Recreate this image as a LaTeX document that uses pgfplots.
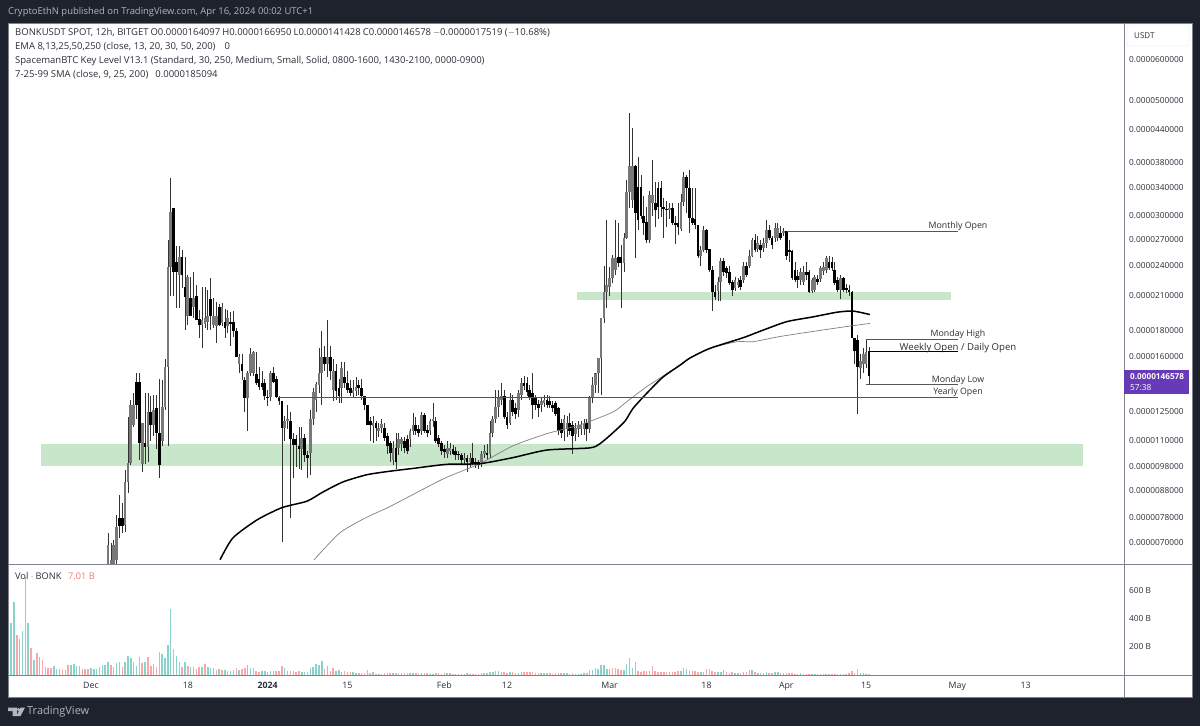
\documentclass[border=0pt]{standalone}
\usepackage{pgfplots}
\usepackage{pgfplotstable}
\usepackage{fontspec}
\pgfplotsset{compat=1.18}
\setmainfont{Open Sans}
\definecolor{bgdark}{HTML}{1E222D}
\definecolor{hdr}{HTML}{B2B5BE}
\definecolor{ink}{HTML}{2A2E39}
\definecolor{frame}{HTML}{7E828C}
\definecolor{zone}{HTML}{C8E6C9}
\definecolor{upbody}{HTML}{787878}
\definecolor{volup}{HTML}{8AD3CB}
\definecolor{voldn}{HTML}{F8A8A8}
\definecolor{lastpx}{HTML}{673AB7}
\definecolor{lvl}{HTML}{555555}
\newcommand{\fa}{\fontsize{8.8}{10}\selectfont}
\newcommand{\fl}{\fontsize{9.5}{11}\selectfont}
\newcommand{\ft}{\fontsize{8.3}{10}\selectfont}
\pgfplotstableread{
k o h l c
35 .605 .729 .57 .691
36 .605 .697 .57 .647
37 .619 .707 .59 .691
38 .647 .79 .633 .749
39 .78 .864 .713 .752
40 .78 .834 .729 .752
41 .756 .965 .732 .915
42 .915 1.225 .872 .996
43 .996 1.32 .985 1.29
44 1.18 1.36 1.17 1.29
45 1.43 1.485 1.21 1.29
46 1.43 1.485 1.01 1.09
47 .99 1.19 .957 1.19
48 1.09 1.36 .99 1.07
49 1.07 1.36 1.0 1.25
50 1.25 1.345 1.10 1.18
51 1.18 1.35 1.125 1.26
52 1.27 1.35 1.06 1.14
53 1.14 1.445 .93 .985
54 1.10 1.44 1.075 1.28
55 1.28 1.58 1.26 1.53
56 1.53 2.69 1.075 2.38
57 2.38 3.54 2.10 3.05
58 3.10 3.10 2.10 2.33
59 2.44 2.62 1.99 2.33
60 2.30 2.62 1.99 2.49
61 2.49 2.57 2.17 2.30
62 2.18 2.49 1.80 2.09
63 1.92 2.30 1.84 2.28
64 2.08 2.28 1.93 1.92
65 2.0 2.33 1.90 2.08
66 2.10 2.20 1.88 1.88
67 1.89 1.97 1.74 1.84
68 1.84 2.18 1.66 1.88
69 1.85 2.18 1.82 1.90
70 1.87 2.15 1.80 1.92
71 2.07 2.27 1.80 1.92
72 1.84 2.08 1.82 1.92
73 1.83 2.04 1.70 1.92
74 2.0 2.02 1.83 1.84
75 1.86 2.03 1.83 2.0
76 1.87 1.98 1.74 1.82
77 1.83 1.97 1.78 1.90
78 1.87 1.95 1.68 1.85
79 1.87 1.96 1.75 1.79
80 1.79 1.82 1.60 1.60
81 1.55 1.62 1.49 1.60
82 1.55 1.62 1.44 1.50
83 1.44 1.46 1.25 1.33
84 1.33 1.50 1.15 1.485
85 1.485 1.66 1.47 1.62
86 1.49 1.64 1.47 1.63
87 1.48 1.63 1.41 1.42
88 1.45 1.53 1.38 1.40
89 1.42 1.50 1.38 1.40
90 1.42 1.45 1.32 1.34
91 1.335 1.38 1.285 1.33
92 1.335 1.50 1.31 1.49
93 1.49 1.53 1.42 1.43
94 1.45 1.47 1.33 1.335
95 1.335 1.34 1.29 1.31
96 1.31 1.31 .70 1.165
97 1.165 1.23 1.10 1.20
98 1.20 1.29 1.16 1.21
99 1.20 1.25 .78 1.11
100 1.11 1.14 .93 1.08
101 1.11 1.13 .98 1.08
102 1.075 1.17 .97 1.06
103 1.06 1.17 .965 1.115
104 1.115 1.135 1.0 1.03
105 1.03 1.05 .93 1.02
106 1.04 1.26 .945 1.21
107 1.21 1.39 1.18 1.365
108 1.32 1.43 1.25 1.415
109 1.41 1.66 1.36 1.485
110 1.485 1.79 1.29 1.60
111 1.60 1.68 1.50 1.55
112 1.55 1.88 1.46 1.60
113 1.60 1.68 1.44 1.50
114 1.38 1.58 1.31 1.50
115 1.50 1.55 1.32 1.37
116 1.39 1.45 1.30 1.34
117 1.39 1.56 1.30 1.52
118 1.46 1.56 1.39 1.42
119 1.42 1.50 1.36 1.38
120 1.39 1.44 1.34 1.36
121 1.36 1.44 1.33 1.38
122 1.37 1.46 1.34 1.40
123 1.41 1.44 1.35 1.39
124 1.39 1.445 1.32 1.34
125 1.34 1.34 1.26 1.29
126 1.29 1.29 1.18 1.18
127 1.20 1.22 1.10 1.18
128 1.175 1.23 1.09 1.19
129 1.19 1.20 1.10 1.165
130 1.15 1.19 1.12 1.165
131 1.165 1.21 1.14 1.185
132 1.165 1.19 1.10 1.115
133 1.125 1.14 1.035 1.075
134 1.09 1.10 1.0 1.04
135 1.01 1.10 .985 1.065
136 1.065 1.14 .97 1.0
137 1.065 1.14 1.03 1.11
138 1.085 1.12 1.05 1.11
139 1.10 1.12 1.04 1.065
140 1.11 1.13 1.035 1.05
141 1.11 1.16 1.07 1.15
142 1.15 1.245 1.13 1.18
143 1.18 1.22 1.13 1.15
144 1.16 1.18 1.12 1.14
145 1.15 1.25 1.13 1.235
146 1.235 1.245 1.14 1.15
147 1.155 1.18 1.12 1.14
148 1.15 1.21 1.13 1.20
149 1.20 1.30 1.17 1.21
150 1.20 1.22 1.09 1.10
151 1.115 1.13 1.07 1.085
152 1.09 1.10 1.03 1.05
153 1.06 1.08 1.02 1.045
154 1.035 1.10 1.02 1.065
155 1.05 1.09 1.03 1.065
156 1.06 1.08 1.03 1.035
157 1.05 1.07 1.01 1.03
158 1.035 1.05 1.01 1.03
159 1.03 1.04 .99 1.01
160 1.01 1.04 .99 1.02
161 1.02 1.03 .955 1.0
162 1.0 1.04 .98 1.02
163 1.02 1.09 .985 .995
164 1.0 1.02 .975 .99
165 1.0 1.01 .97 .985
166 1.0 1.05 .98 1.035
167 1.035 1.08 1.02 1.05
168 1.04 1.085 1.01 1.03
169 1.035 1.20 1.02 1.14
170 1.14 1.23 1.12 1.21
171 1.21 1.38 1.19 1.28
172 1.28 1.38 1.22 1.33
173 1.32 1.42 1.29 1.34
174 1.34 1.38 1.21 1.225
175 1.225 1.25 1.16 1.18
176 1.19 1.36 1.18 1.32
177 1.32 1.35 1.23 1.25
178 1.27 1.30 1.21 1.24
179 1.26 1.38 1.22 1.36
180 1.35 1.455 1.32 1.42
181 1.42 1.47 1.38 1.405
182 1.42 1.46 1.34 1.365
183 1.38 1.41 1.32 1.335
184 1.36 1.49 1.21 1.29
185 1.33 1.35 1.26 1.29
186 1.295 1.32 1.225 1.27
187 1.29 1.33 1.25 1.31
188 1.30 1.35 1.28 1.32
189 1.32 1.35 1.27 1.29
190 1.31 1.34 1.27 1.29
191 1.29 1.31 1.25 1.27
192 1.30 1.31 1.23 1.24
193 1.27 1.28 1.13 1.15
194 1.19 1.21 1.115 1.14
195 1.15 1.235 1.10 1.21
196 1.16 1.23 1.12 1.19
197 1.19 1.245 1.13 1.15
198 1.18 1.20 1.035 1.125
199 1.135 1.19 1.10 1.165
200 1.16 1.20 1.12 1.18
201 1.16 1.20 1.13 1.18
202 1.16 1.21 1.13 1.185
203 1.19 1.21 1.10 1.16
204 1.16 1.345 1.14 1.335
205 1.335 1.46 1.30 1.41
206 1.41 1.49 1.36 1.485
207 1.485 1.59 1.36 1.59
208 1.59 1.90 1.35 1.90
209 1.90 2.40 1.86 2.13
210 2.13 2.94 1.99 2.20
211 2.18 2.38 2.10 2.27
212 2.27 2.52 2.22 2.48
213 2.35 2.94 2.30 2.48
214 2.49 2.90 2.38 2.43
215 2.49 2.63 1.99 2.43
216 2.43 2.77 2.33 2.72
217 2.72 3.51 2.70 3.33
218 3.33 4.74 3.10 3.74
219 3.21 4.44 3.10 3.74
220 3.74 3.76 2.48 3.04
221 3.40 3.89 2.81 2.94
222 3.40 3.59 2.95 3.0
223 3.0 3.28 2.75 2.90
224 2.91 3.11 2.66 2.69
225 2.69 3.35 2.66 3.29
226 3.17 3.84 3.0 3.29
227 3.17 3.48 2.85 3.07
228 3.39 3.48 2.95 3.11
229 3.39 3.50 2.98 3.11
230 3.11 3.25 2.72 3.09
231 3.09 3.20 2.85 3.07
232 3.07 3.17 2.95 3.10
233 3.10 3.17 2.88 2.90
234 2.90 3.0 2.64 2.87
235 2.90 3.17 2.75 2.85
236 2.83 3.30 2.80 3.18
237 3.18 3.64 3.13 3.56
238 3.56 3.60 3.04 3.39
239 3.39 3.67 2.77 2.97
240 2.97 3.39 2.88 2.90
241 2.96 3.39 2.83 2.88
242 2.88 2.88 2.48 2.51
243 2.51 2.62 2.40 2.57
244 2.57 2.86 2.55 2.81
245 2.81 2.83 2.54 2.57
246 2.59 2.59 2.33 2.35
247 2.35 2.40 1.96 2.13
248 2.13 2.20 2.06 2.09
249 2.14 2.28 2.05 2.23
250 2.23 2.48 2.05 2.45
251 2.45 2.48 2.29 2.33
252 2.37 2.40 2.27 2.32
253 2.33 2.40 2.20 2.22
254 2.23 2.25 2.10 2.15
255 2.17 2.28 2.14 2.25
256 2.20 2.27 2.17 2.23
257 2.25 2.29 2.15 2.18
258 2.25 2.44 2.22 2.40
259 2.40 2.44 2.28 2.30
260 2.40 2.57 2.37 2.51
261 2.51 2.71 2.49 2.69
262 2.69 2.76 2.55 2.57
263 2.59 2.74 2.55 2.65
264 2.63 2.69 2.48 2.57
265 2.60 2.71 2.55 2.65
266 2.65 2.94 2.60 2.81
267 2.81 2.87 2.69 2.71
268 2.71 2.74 2.59 2.63
269 2.71 2.90 2.67 2.84
270 2.71 2.90 2.68 2.84
271 2.78 2.86 2.69 2.71
272 2.78 2.84 2.74 2.80
273 2.80 2.80 2.46 2.51
274 2.57 2.69 2.44 2.55
275 2.56 2.57 2.25 2.27
276 2.35 2.44 2.23 2.25
277 2.29 2.35 2.17 2.25
278 2.25 2.37 2.20 2.33
279 2.23 2.40 2.20 2.33
280 2.33 2.44 2.25 2.30
281 2.33 2.35 2.12 2.13
282 2.14 2.27 2.12 2.25
283 2.15 2.30 2.13 2.28
284 2.26 2.30 2.20 2.23
285 2.26 2.40 2.23 2.37
286 2.34 2.44 2.30 2.38
287 2.35 2.50 2.32 2.48
288 2.44 2.50 2.35 2.37
289 2.44 2.49 2.34 2.37
290 2.35 2.44 2.20 2.22
291 2.25 2.28 2.13 2.15
292 2.15 2.30 2.07 2.27
293 2.27 2.28 2.13 2.15
294 2.17 2.21 2.12 2.15
295 2.15 2.20 2.10 2.13
296 2.13 2.14 1.74 1.74
297 1.74 1.74 1.55 1.64
298 1.72 1.76 1.24 1.53
299 1.52 1.62 1.45 1.57
300 1.55 1.66 1.49 1.62
301 1.55 1.73 1.52 1.63
302 1.64097 1.6695 1.41428 1.46578
}\candles
\begin{document}
\begin{tikzpicture}[x=1pt,y=1pt]
\fill[bgdark] (0,0) rectangle (1200,726);
\fill[white] (8,29) rectangle (1192,703);
% main pane
\begin{axis}[
  at={(8pt,162pt)}, anchor=south west, scale only axis, width=1116pt, height=541pt,
  xmin=-0.1, xmax=391.5, ymode=log, ymin=0.6349, ymax=7.076,
  axis line style={draw=frame,line width=.8pt},
  xtick=\empty,
  ytick={6,5,4.4,3.8,3.4,3,2.7,2.4,2.1,1.8,1.6,1.25,1.1,.98,.88,.78,.7},
  yticklabels={0.0000600000,0.0000500000,0.0000440000,0.0000380000,0.0000340000,0.0000300000,0.0000270000,0.0000240000,0.0000210000,0.0000180000,0.0000160000,0.0000125000,0.0000110000,0.0000098000,0.0000088000,0.0000078000,0.0000070000},
  ytick pos=right, yticklabel pos=right, major tick length=0pt, minor tick length=0pt,
  yticklabel style={font=\ft, text=ink, anchor=west, inner sep=0pt, xshift=5pt},
]
\addplot[fill=zone,draw=none,forget plot] coordinates {(11.5,.983)(377.1,.983)(377.1,1.084)(11.5,1.084)} --cycle;
\addplot[fill=zone,draw=none,forget plot] coordinates {(199.5,2.063)(330.8,2.063)(330.8,2.129)(199.5,2.129)} --cycle;
% up bodies
\addplot[draw=none,mark=none,forget plot,
  error bars/.cd, y dir=plus, y explicit, error mark=none,
  error bar style={draw=upbody,line width=2.7pt}]
  table[x=k,y=o,y error plus expr={max(\thisrow{c}-\thisrow{o},0)}] {\candles};
% down bodies
\addplot[draw=none,mark=none,forget plot,
  error bars/.cd, y dir=plus, y explicit, error mark=none,
  error bar style={draw=black,line width=2.7pt}]
  table[x=k,y=c,y error plus expr={max(\thisrow{o}-\thisrow{c},0)}] {\candles};
% upper wicks, from the top of the body to the high
\addplot[draw=none,mark=none,forget plot,
  error bars/.cd, y dir=plus, y explicit, error mark=none,
  error bar style={draw=black!80,line width=.7pt}]
  table[x=k,y expr={max(\thisrow{o},\thisrow{c})},y error plus expr={\thisrow{h}-max(\thisrow{o},\thisrow{c})}] {\candles};
% lower wicks, from the bottom of the body to the low
\addplot[draw=none,mark=none,forget plot,
  error bars/.cd, y dir=minus, y explicit, error mark=none,
  error bar style={draw=black!80,line width=.7pt}]
  table[x=k,y expr={min(\thisrow{o},\thisrow{c})},y error minus expr={min(\thisrow{o},\thisrow{c})-\thisrow{l}}] {\candles};
% SMA 200 and EMA 200
\addplot[smooth,tension=.4,draw=gray,line width=.7pt,mark=none,forget plot] coordinates {
(107.3,.647)(116.4,.73)(125.8,.782)(133.9,.82)(152.5,.927)(165.5,.993)(177.1,1.075)(189,1.135)(200.6,1.18)(212.2,1.25)(217.1,1.31)(224.1,1.40)(235.7,1.54)(239.2,1.59)(246.2,1.66)(255.7,1.71)(261.3,1.71)(270.8,1.75)(282.4,1.79)(294.3,1.83)(302.3,1.855)};
\addplot[smooth,tension=.4,draw=black,line width=1.5pt,mark=none,forget plot] coordinates {
(74.3,.647)(78.8,.713)(87.3,.773)(96,.816)(104.8,.84)(110.4,.875)(117.4,.915)(125.8,.945)(133.9,.96)(142,.972)(153.9,.99)(165.5,.993)(177.1,1.02)(189,1.055)(204,1.065)(207.6,1.085)(212.2,1.14)(216.4,1.20)(219.2,1.27)(224.1,1.36)(229.7,1.46)(235.7,1.54)(239.2,1.59)(246.2,1.66)(257.8,1.74)(264.8,1.80)(273.2,1.87)(282.4,1.91)(290.8,1.95)(296.4,1.96)(302.3,1.93)};
% key levels
\addplot[lvl,line width=.9pt,forget plot] coordinates {(273.2,2.80)(333.2,2.80)};
\addplot[lvl,line width=.9pt,forget plot] coordinates {(301,1.727)(333.2,1.727)};
\addplot[black,line width=.9pt,forget plot] coordinates {(302.3,1.64)(333.2,1.64)};
\addplot[lvl,line width=.9pt,forget plot] coordinates {(301,1.414)(333.2,1.414)};
\addplot[lvl,line width=.9pt,forget plot] coordinates {(94.6,1.335)(333.2,1.335)};
\end{axis}
% volume pane
\begin{axis}[
  at={(8pt,51pt)}, anchor=south west, scale only axis, width=1116pt, height=111pt,
  xmin=-0.1, xmax=391.5, ymin=0, ymax=793,
  axis line style={draw=frame,line width=.8pt},
  xtick={29,63,91,119,153,175,211,245,273,301,333,357},
  xticklabels={Dec,18,\textbf{2024},15,Feb,12,Mar,18,Apr,15,May,13},
  xticklabel style={font=\fa, text=ink, inner sep=0pt, yshift=-7pt},
  ytick={200,400,600}, yticklabels={200 B,400 B,600 B},
  ytick pos=right, yticklabel pos=right, major tick length=0pt,
  yticklabel style={font=\ft, text=ink, anchor=west, inner sep=0pt, xshift=5pt},
]
\addplot[ycomb,draw=volup,line width=1.5pt,mark=none,forget plot] coordinates {
(1,369)(2,519)(4,257)(5,312)(6,702)(7,369)(9,107)(11,131)(16,62)(17,43)(18,43)(22,71)(23,76)(24,67)(25,67)(29,48)(30,40)(31,45)(32,55)(33,71)(34,71)(35,90)(38,83)(39,95)(41,95)(42,136)(43,119)(44,90)(45,62)(48,90)(51,79)(54,152)(55,119)(56,212)(57,471)(59,136)(62,95)(64,60)(65,55)(68,55)(70,55)(71,50)(72,50)(74,43)(76,36)(77,31)(78,31)(81,33)(84,71)(85,52)(89,26)(90,26)(92,26)(97,48)(98,29)(100,31)(103,21)(104,24)(106,50)(107,60)(108,76)(109,69)(110,100)(112,64)(115,26)(116,33)(117,21)
(121,19)(122,17)(128,19)(130,10)(131,10)(135,12)(137,14)(138,12)(141,15)(142,14)(145,15)(148,10)(149,10)(154,12)(155,12)(160,8)(162,8)(166,12)(167,14)(169,19)(170,24)(171,31)(172,29)(173,21)(176,24)(179,17)(180,24)(187,12)(188,12)(195,14)(196,12)(199,10)(200,10)(201,10)(202,14)(204,36)(205,38)(206,52)(207,45)(208,71)(209,71)(210,40)(211,40)(216,38)(217,79)(218,119)(219,52)(225,26)(232,24)(236,29)(237,48)(238,43)(239,31)(243,24)(244,24)(249,24)(250,24)(255,14)(256,14)(258,21)(260,33)(261,33)(263,14)(265,17)(266,24)(269,19)(270,19)(272,12)(278,12)(279,10)(282,10)(283,10)(285,10)(286,10)(287,10)(292,10)(299,14)(300,12)(301,10)};
\addplot[ycomb,draw=voldn,line width=1.5pt,mark=none,forget plot] coordinates {
(0,571)(3,286)(8,193)(10,159)(12,107)(13,55)(14,52)(15,52)(19,38)(20,36)(21,71)(26,43)(27,43)(28,40)(36,69)(37,60)(40,55)(46,129)(47,86)(49,129)(50,62)(52,57)(53,164)(58,183)(60,90)(61,55)(63,62)(66,43)(67,55)(69,79)(73,33)(75,33)(79,36)(80,48)(82,43)(83,50)(86,52)(87,31)(88,19)(91,19)(93,31)(94,31)(95,26)(96,64)(99,31)(101,19)(102,29)(105,24)(111,43)(113,29)(114,48)(118,29)(119,24)
(120,24)(123,17)(124,17)(125,14)(126,36)(127,14)(129,10)(132,12)(133,12)(134,12)(136,12)(139,12)(140,12)(143,12)(144,12)(146,14)(147,12)(150,14)(151,12)(152,10)(153,12)(156,10)(157,10)(158,8)(159,8)(161,12)(163,10)(164,8)(165,8)(168,16)(174,19)(175,17)(177,19)(178,14)(181,19)(182,21)(183,21)(184,21)(185,17)(186,14)(189,14)(190,14)(191,10)(192,14)(193,17)(194,12)(197,10)(198,12)(203,17)(212,48)(213,52)(214,40)(215,36)(220,95)(221,29)(222,24)(223,26)(224,29)(226,67)(227,29)(228,24)(229,24)(230,24)(231,21)(233,24)(234,24)(235,26)(240,29)(241,26)(242,24)(245,43)(246,43)(247,29)(248,19)(251,33)(252,24)(253,14)(254,19)(257,14)(259,19)(262,21)(264,17)(267,14)(268,12)(271,12)(273,17)(274,12)(275,12)(276,10)(277,10)(280,10)(281,10)(284,10)(288,10)(289,10)(290,10)(291,10)(293,10)(294,10)(295,14)(296,31)(297,12)(298,43)(302,7)};
\end{axis}
% chart frame continuation
\draw[frame,line width=.8pt] (8,29) rectangle (1192,703);
\draw[frame,line width=.8pt] (1124,29) -- (1124,703);
\draw[frame,line width=.8pt] (1124,51) -- (1192,51);
\draw[frame,line width=.8pt] (1124,162) -- (1192,162);
% header and legend
\node[anchor=west,inner sep=0pt,text=hdr] at (8,714) {\fontsize{9.43}{11}\selectfont CryptoEthN published on TradingView.com, Apr 16, 2024 00:02 UTC+1};
\node[anchor=west,inner sep=0pt,text=ink] at (15,693) {\fl BONKUSDT SPOT, 12h, BITGET\hspace{2pt}O0.0000164097\hspace{2pt}H0.0000166950\hspace{2pt}L0.0000141428\hspace{2pt}C0.0000146578\hspace{2pt}$-$0.0000017519 ($-$10.68\%)};
\node[anchor=west,inner sep=0pt,text=ink] at (15,679) {\fl EMA 8,13,25,50,250 (close, 13, 20, 30, 50, 200)\hspace{9pt}0};
\node[anchor=west,inner sep=0pt,text=ink] at (15,665) {\fl SpacemanBTC Key Level V13.1 (Standard, 30, 250, Medium, Small, Solid, 0800-1600, 1430-2100, 0000-0900)};
\node[anchor=west,inner sep=0pt,text=ink] at (15,651) {\fl 7-25-99 SMA (close, 9, 25, 200)\hspace{7pt}0.0000185094};
% level labels
\node[inner sep=0pt,text=ink] at (958,499.5) {\fa Monthly Open};
\node[inner sep=0pt,text=ink] at (958,392) {\fa Monday High};
\node[inner sep=0pt,text=ink] at (958,378) {\fontsize{9.6}{11}\selectfont Weekly Open / Daily Open};
\node[inner sep=0pt,text=ink] at (958,346) {\fa Monday Low};
\node[inner sep=0pt,text=ink] at (958,334) {\fa Yearly Open};
% price scale extras
\draw[rounded corners=2pt,draw=black!10,fill=white] (1127,680) rectangle (1189,701);
\node[anchor=west,inner sep=0pt,text=ink] at (1134,690) {\fontsize{8}{10}\selectfont USDT};
\fill[lastpx] (1124,332) rectangle (1189,356);
\node[anchor=west,inner sep=0pt,text=white] at (1130,349) {\fontsize{8.2}{10}\selectfont\bfseries 0.0000146578};
\node[anchor=west,inner sep=0pt,text=white] at (1130,338) {\fontsize{8.3}{10}\selectfont 57:38};
% volume legend
\node[anchor=west,inner sep=0pt,text=ink] at (15,150) {\fontsize{9.2}{11}\selectfont Vol $\cdot$ BONK};
\node[anchor=west,inner sep=0pt,text=voldn!70!red] at (68,150) {\fontsize{9.2}{11}\selectfont 7.01 B};
% footer
\fill[hdr] (8,18.5) -- (17,18.5) -- (17,10) -- (12.5,10) -- (12.5,15) -- (8,15) -- cycle;
\fill[hdr] (18.5,16.5) circle (1.7);
\fill[hdr] (20.5,18.5) -- (25,18.5) -- (20.5,10) -- (16.5,10) -- cycle;
\node[anchor=west,inner sep=0pt,text=hdr] at (27,14.5) {\fontsize{11}{12}\selectfont TradingView};
\end{tikzpicture}
\end{document}
